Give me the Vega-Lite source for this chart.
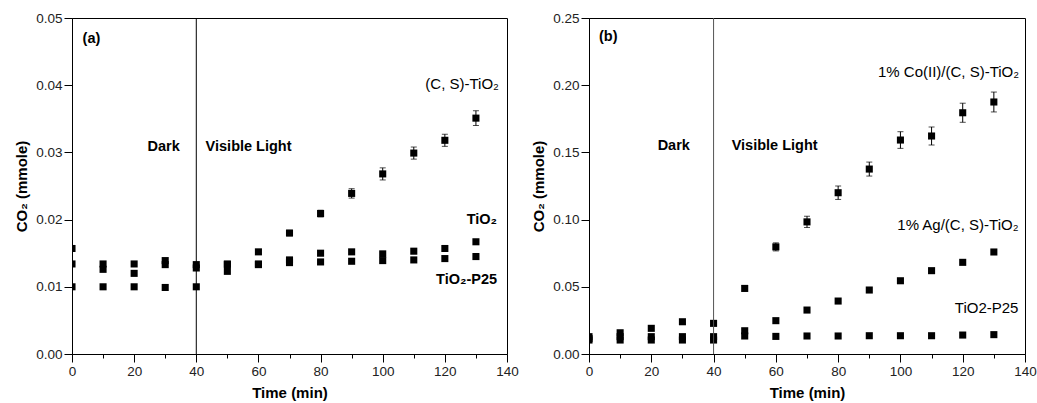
{
  "$schema": "https://vega.github.io/schema/vega-lite/v6.json",
  "padding": {"left": 14, "top": 10, "right": 0, "bottom": 0},
  "background": "white",
  "spacing": 12,
  "config": {
    "view": {"stroke": "black", "strokeWidth": 1},
    "font": "Liberation Sans",
    "axis": {
      "labelFont": "Liberation Sans", "labelFontSize": 13.5, "labelColor": "#222",
      "titleFont": "Liberation Sans", "titleFontSize": 15, "titleFontWeight": "bold", "titleColor": "black",
      "domainColor": "black", "tickColor": "black", "grid": false, "labelOverlap": false, "labelFlush": false
    }
  },
  "datasets": {
    "a": [
      {"t": 0, "co2": 0.0134, "s": "CS"}, {"t": 10, "co2": 0.0126, "s": "CS"}, {"t": 20, "co2": 0.0134, "s": "CS"}, {"t": 30, "co2": 0.0139, "s": "CS"}, {"t": 40, "co2": 0.0133, "s": "CS"}, {"t": 50, "co2": 0.0134, "s": "CS"}, {"t": 60, "co2": 0.0152, "s": "CS", "lo": 0.0149, "hi": 0.0155},
      {"t": 70, "co2": 0.0180, "s": "CS", "lo": 0.0176, "hi": 0.0184}, {"t": 80, "co2": 0.0209, "s": "CS", "lo": 0.0204, "hi": 0.0214}, {"t": 90, "co2": 0.0239, "s": "CS", "lo": 0.0232, "hi": 0.0246}, {"t": 100, "co2": 0.0268, "s": "CS", "lo": 0.0259, "hi": 0.0277},
      {"t": 110, "co2": 0.0299, "s": "CS", "lo": 0.0290, "hi": 0.0308}, {"t": 120, "co2": 0.0318, "s": "CS", "lo": 0.0309, "hi": 0.0327}, {"t": 130, "co2": 0.0351, "s": "CS", "lo": 0.0340, "hi": 0.0362},
      {"t": 0, "co2": 0.0157, "s": "TiO2"}, {"t": 10, "co2": 0.0134, "s": "TiO2"}, {"t": 20, "co2": 0.0120, "s": "TiO2"}, {"t": 30, "co2": 0.0133, "s": "TiO2"}, {"t": 40, "co2": 0.0128, "s": "TiO2"}, {"t": 50, "co2": 0.0123, "s": "TiO2"}, {"t": 60, "co2": 0.0133, "s": "TiO2"},
      {"t": 70, "co2": 0.0140, "s": "TiO2"}, {"t": 80, "co2": 0.0150, "s": "TiO2"}, {"t": 90, "co2": 0.0152, "s": "TiO2"}, {"t": 100, "co2": 0.0149, "s": "TiO2"}, {"t": 110, "co2": 0.0153, "s": "TiO2"}, {"t": 120, "co2": 0.0157, "s": "TiO2"}, {"t": 130, "co2": 0.0167, "s": "TiO2"},
      {"t": 0, "co2": 0.0100, "s": "P25"}, {"t": 10, "co2": 0.0100, "s": "P25"}, {"t": 20, "co2": 0.0100, "s": "P25"}, {"t": 30, "co2": 0.0099, "s": "P25"}, {"t": 40, "co2": 0.0100, "s": "P25"}, {"t": 50, "co2": 0.0133, "s": "P25"}, {"t": 60, "co2": 0.0134, "s": "P25"},
      {"t": 70, "co2": 0.0136, "s": "P25"}, {"t": 80, "co2": 0.0137, "s": "P25"}, {"t": 90, "co2": 0.0138, "s": "P25"}, {"t": 100, "co2": 0.0139, "s": "P25"}, {"t": 110, "co2": 0.0140, "s": "P25"}, {"t": 120, "co2": 0.0142, "s": "P25"}, {"t": 130, "co2": 0.0145, "s": "P25"}
    ],
    "b": [
      {"t": 0, "co2": 0.0129, "s": "Co"}, {"t": 10, "co2": 0.0158, "s": "Co"}, {"t": 20, "co2": 0.0191, "s": "Co"}, {"t": 30, "co2": 0.0240, "s": "Co"}, {"t": 40, "co2": 0.0228, "s": "Co"},
      {"t": 50, "co2": 0.0488, "s": "Co", "lo": 0.0468, "hi": 0.0508}, {"t": 60, "co2": 0.0797, "s": "Co", "lo": 0.0767, "hi": 0.0827}, {"t": 70, "co2": 0.0983, "s": "Co", "lo": 0.0941, "hi": 0.1025},
      {"t": 80, "co2": 0.1200, "s": "Co", "lo": 0.1150, "hi": 0.1250}, {"t": 90, "co2": 0.1376, "s": "Co", "lo": 0.1324, "hi": 0.1428}, {"t": 100, "co2": 0.1592, "s": "Co", "lo": 0.1530, "hi": 0.1654},
      {"t": 110, "co2": 0.1622, "s": "Co", "lo": 0.1555, "hi": 0.1689}, {"t": 120, "co2": 0.1795, "s": "Co", "lo": 0.1724, "hi": 0.1866}, {"t": 130, "co2": 0.1875, "s": "Co", "lo": 0.1801, "hi": 0.1949},
      {"t": 0, "co2": 0.0115, "s": "Ag"}, {"t": 10, "co2": 0.0129, "s": "Ag"}, {"t": 20, "co2": 0.0129, "s": "Ag"}, {"t": 30, "co2": 0.0129, "s": "Ag"}, {"t": 40, "co2": 0.0129, "s": "Ag"}, {"t": 50, "co2": 0.0173, "s": "Ag"}, {"t": 60, "co2": 0.0248, "s": "Ag"},
      {"t": 70, "co2": 0.0327, "s": "Ag"}, {"t": 80, "co2": 0.0394, "s": "Ag"}, {"t": 90, "co2": 0.0476, "s": "Ag"}, {"t": 100, "co2": 0.0545, "s": "Ag"}, {"t": 110, "co2": 0.0620, "s": "Ag"}, {"t": 120, "co2": 0.0682, "s": "Ag"}, {"t": 130, "co2": 0.0759, "s": "Ag"},
      {"t": 0, "co2": 0.0104, "s": "P25"}, {"t": 10, "co2": 0.0104, "s": "P25"}, {"t": 20, "co2": 0.0104, "s": "P25"}, {"t": 30, "co2": 0.0104, "s": "P25"}, {"t": 40, "co2": 0.0104, "s": "P25"}, {"t": 50, "co2": 0.0134, "s": "P25"}, {"t": 60, "co2": 0.0131, "s": "P25"},
      {"t": 70, "co2": 0.0134, "s": "P25"}, {"t": 80, "co2": 0.0134, "s": "P25"}, {"t": 90, "co2": 0.0136, "s": "P25"}, {"t": 100, "co2": 0.0136, "s": "P25"}, {"t": 110, "co2": 0.0136, "s": "P25"}, {"t": 120, "co2": 0.0141, "s": "P25"}, {"t": 130, "co2": 0.0144, "s": "P25"}
    ]
  },
  "hconcat": [
    {
      "width": 435, "height": 336,
      "encoding": {
        "x": {"field": "t", "type": "quantitative", "scale": {"domain": [0, 140], "nice": false},
          "axis": {"title": "Time (min)", "values": [0,10,20,30,40,50,60,70,80,90,100,110,120,130,140], "labelExpr": "datum.value % 20 == 0 ? datum.label : ''",
            "tickSize": {"condition": {"test": "datum.value % 20 != 0", "value": 4}, "value": 8}, "labelPadding": 2, "titlePadding": 8}}
      },
      "layer": [
        {
          "data": {"name": "a"},
          "mark": {"type": "point", "shape": "square", "filled": true, "color": "black", "size": 50, "opacity": 1, "clip": true},
          "encoding": {
            "y": {"field": "co2", "type": "quantitative", "scale": {"domain": [0, 0.05], "nice": false}, "title": "CO₂ (mmole)",
              "axis": {"format": ".2f", "values": [0,0.005,0.01,0.015,0.02,0.025,0.03,0.035,0.04,0.045,0.05],
                "labelExpr": "round(datum.value*1000) % 10 == 0 ? datum.label : ''",
                "tickSize": {"condition": {"test": "round(datum.value*1000) % 10 != 0", "value": 4}, "value": 8}, "labelPadding": 2, "titlePadding": 6}}
          }
        },
        {
          "data": {"values": [{"t": 40}]},
          "mark": {"type": "rule", "color": "black", "strokeWidth": 1},
          "encoding": {}
        },
        {
          "data": {"name": "a"},
          "transform": [{"filter": "isValid(datum.lo)"}],
          "mark": {"type": "rule", "color": "black", "strokeWidth": 1},
          "encoding": {
            "y": {"field": "lo", "type": "quantitative", "scale": {"domain": [0, 0.05], "nice": false}, "title": "CO₂ (mmole)"},
            "y2": {"field": "hi"}
          }
        },
        {
          "data": {"name": "a"},
          "transform": [{"filter": "isValid(datum.lo)"}],
          "mark": {"type": "tick", "orient": "horizontal", "color": "black", "size": 6, "thickness": 1},
          "encoding": {
            "y": {"field": "lo", "type": "quantitative", "scale": {"domain": [0, 0.05], "nice": false}, "title": "CO₂ (mmole)"}
          }
        },
        {
          "data": {"name": "a"},
          "transform": [{"filter": "isValid(datum.hi)"}],
          "mark": {"type": "tick", "orient": "horizontal", "color": "black", "size": 6, "thickness": 1},
          "encoding": {
            "y": {"field": "hi", "type": "quantitative", "scale": {"domain": [0, 0.05], "nice": false}, "title": "CO₂ (mmole)"}
          }
        },
        {
          "data": {"values": [{"t": 3.4, "co2": 0.0469, "label": "(a)"}, {"t": 43, "co2": 0.0308, "label": "Visible Light"}]},
          "mark": {"type": "text", "align": "left", "baseline": "middle", "fontWeight": "bold", "fontSize": 14.5, "font": "Liberation Sans", "color": "black"},
          "encoding": {
            "y": {"field": "co2", "type": "quantitative", "scale": {"domain": [0, 0.05], "nice": false}, "title": "CO₂ (mmole)"},
            "text": {"field": "label"}
          }
        },
        {
          "data": {"values": [{"t": 34.7, "co2": 0.0308, "label": "Dark"}, {"t": 136.8, "co2": 0.0199, "label": "TiO₂"}, {"t": 136.8, "co2": 0.0110, "label": "TiO₂-P25"}]},
          "mark": {"type": "text", "align": "right", "baseline": "middle", "fontWeight": "bold", "fontSize": 14.5, "font": "Liberation Sans", "color": "black"},
          "encoding": {
            "y": {"field": "co2", "type": "quantitative", "scale": {"domain": [0, 0.05], "nice": false}, "title": "CO₂ (mmole)"},
            "text": {"field": "label"}
          }
        },
        {
          "data": {"values": [{"t": 137.4, "co2": 0.0402, "label": "(C, S)-TiO₂"}]},
          "mark": {"type": "text", "align": "right", "baseline": "middle", "fontWeight": "normal", "fontSize": 15, "font": "Liberation Sans", "color": "black"},
          "encoding": {
            "y": {"field": "co2", "type": "quantitative", "scale": {"domain": [0, 0.05], "nice": false}, "title": "CO₂ (mmole)"},
            "text": {"field": "label"}
          }
        }
      ]
    },
    {
      "width": 436, "height": 336,
      "encoding": {
        "x": {"field": "t", "type": "quantitative", "scale": {"domain": [0, 140], "nice": false},
          "axis": {"title": "Time (min)", "values": [0,10,20,30,40,50,60,70,80,90,100,110,120,130,140], "labelExpr": "datum.value % 20 == 0 ? datum.label : ''",
            "tickSize": {"condition": {"test": "datum.value % 20 != 0", "value": 4}, "value": 8}, "labelPadding": 2, "titlePadding": 8}}
      },
      "layer": [
        {
          "data": {"name": "b"},
          "mark": {"type": "point", "shape": "square", "filled": true, "color": "black", "size": 50, "opacity": 1, "clip": true},
          "encoding": {
            "y": {"field": "co2", "type": "quantitative", "scale": {"domain": [0, 0.25], "nice": false}, "title": "CO₂ (mmole)",
              "axis": {"format": ".2f", "values": [0,0.025,0.05,0.075,0.1,0.125,0.15,0.175,0.2,0.225,0.25],
                "labelExpr": "round(datum.value*1000) % 50 == 0 ? datum.label : ''",
                "tickSize": {"condition": {"test": "round(datum.value*1000) % 50 != 0", "value": 4}, "value": 8}, "labelPadding": 2, "titlePadding": 6}}
          }
        },
        {
          "data": {"values": [{"t": 40}]},
          "mark": {"type": "rule", "color": "#555", "strokeWidth": 1},
          "encoding": {}
        },
        {
          "data": {"name": "b"},
          "transform": [{"filter": "isValid(datum.lo)"}],
          "mark": {"type": "rule", "color": "black", "strokeWidth": 1},
          "encoding": {
            "y": {"field": "lo", "type": "quantitative", "scale": {"domain": [0, 0.25], "nice": false}, "title": "CO₂ (mmole)"},
            "y2": {"field": "hi"}
          }
        },
        {
          "data": {"name": "b"},
          "transform": [{"filter": "isValid(datum.lo)"}],
          "mark": {"type": "tick", "orient": "horizontal", "color": "black", "size": 6, "thickness": 1},
          "encoding": {
            "y": {"field": "lo", "type": "quantitative", "scale": {"domain": [0, 0.25], "nice": false}, "title": "CO₂ (mmole)"}
          }
        },
        {
          "data": {"name": "b"},
          "transform": [{"filter": "isValid(datum.hi)"}],
          "mark": {"type": "tick", "orient": "horizontal", "color": "black", "size": 6, "thickness": 1},
          "encoding": {
            "y": {"field": "hi", "type": "quantitative", "scale": {"domain": [0, 0.25], "nice": false}, "title": "CO₂ (mmole)"}
          }
        },
        {
          "data": {"values": [{"t": 3.2, "co2": 0.2362, "label": "(b)"}, {"t": 45.8, "co2": 0.155, "label": "Visible Light"}]},
          "mark": {"type": "text", "align": "left", "baseline": "middle", "fontWeight": "bold", "fontSize": 14.5, "font": "Liberation Sans", "color": "black"},
          "encoding": {
            "y": {"field": "co2", "type": "quantitative", "scale": {"domain": [0, 0.25], "nice": false}, "title": "CO₂ (mmole)"},
            "text": {"field": "label"}
          }
        },
        {
          "data": {"values": [{"t": 32.4, "co2": 0.155, "label": "Dark"}]},
          "mark": {"type": "text", "align": "right", "baseline": "middle", "fontWeight": "bold", "fontSize": 14.5, "font": "Liberation Sans", "color": "black"},
          "encoding": {
            "y": {"field": "co2", "type": "quantitative", "scale": {"domain": [0, 0.25], "nice": false}, "title": "CO₂ (mmole)"},
            "text": {"field": "label"}
          }
        },
        {
          "data": {"values": [{"t": 138.1, "co2": 0.210, "label": "1% Co(II)/(C, S)-TiO₂"}, {"t": 137.9, "co2": 0.096, "label": "1% Ag/(C, S)-TiO₂"}, {"t": 137.9, "co2": 0.034, "label": "TiO2-P25"}]},
          "mark": {"type": "text", "align": "right", "baseline": "middle", "fontWeight": "normal", "fontSize": 15, "font": "Liberation Sans", "color": "black"},
          "encoding": {
            "y": {"field": "co2", "type": "quantitative", "scale": {"domain": [0, 0.25], "nice": false}, "title": "CO₂ (mmole)"},
            "text": {"field": "label"}
          }
        }
      ]
    }
  ]
}
